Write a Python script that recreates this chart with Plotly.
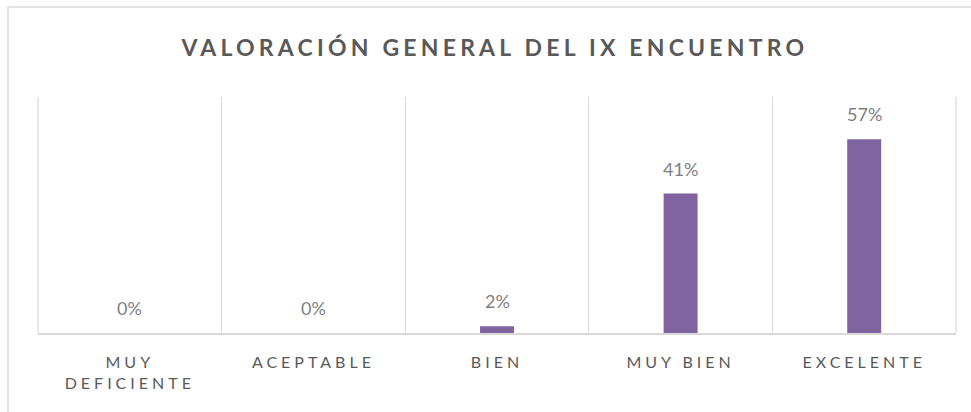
import plotly.graph_objects as go

categories = ["MUY<br>DEFICIENTE", "ACEPTABLE", "BIEN", "MUY BIEN", "EXCELENTE"]
values = [0, 0, 2, 41, 57]
labels = ["0%", "0%", "2%", "41%", "57%"]
title_text = "VALORACIÓN GENERAL DEL IX ENCUENTRO"

W, H = 971, 412
ML, MR, MT, MB = 38, 15, 97, 79
pw = W - ML - MR
ph = H - MT - MB

fig = go.Figure()
fig.add_trace(go.Bar(
    x=categories, y=values, width=0.185,
    marker=dict(color="#8064A2", line=dict(width=0)),
    hoverinfo="skip",
))

for c, v, t in zip(categories, values, labels):
    fig.add_annotation(x=c, y=v, text=t, showarrow=False, yanchor="middle",
                       yshift=25, font=dict(family="Lato", size=18, color="#7f7f7f"))

fig.add_annotation(xref="paper", yref="paper", x=(494 - ML) / pw, y=(H - MB - 47) / ph,
                   text="<b>" + title_text + "</b>", showarrow=False, xanchor="center",
                   yanchor="middle", font=dict(family="Lato", size=23, color="#595959"))

# chart border
fig.add_shape(type="rect", xref="paper", yref="paper",
              x0=(8 - ML) / pw, x1=1.2, y0=-0.5, y1=(H - MB - 7) / ph,
              line=dict(color="#d9d9d9", width=1.5), fillcolor="rgba(0,0,0,0)", layer="below")

# outer vertical gridlines at the plot edges
for xe in (0, 1):
    fig.add_shape(type="line", xref="paper", yref="paper", x0=xe, x1=xe, y0=0, y1=1,
                  line=dict(color="#d9d9d9", width=1.2), layer="below")

fig.update_layout(
    width=W, height=H,
    margin=dict(l=ML, r=MR, t=MT, b=MB),
    paper_bgcolor="white", plot_bgcolor="white",
    showlegend=False,
    xaxis=dict(type="category", tickson="boundaries", showgrid=True, gridcolor="#d9d9d9",
               gridwidth=1.2, showline=True, linecolor="#d9d9d9", linewidth=1.5,
               ticks="", range=[-0.5, 4.5], ticklabelstandoff=14,
               tickfont=dict(family="Lato", size=16, color="#595959")),
    yaxis=dict(range=[0, 69.4], showgrid=False, showticklabels=False, zeroline=False,
               showline=False, fixedrange=True),
)

post = """
document.body.style.margin='0';
var gd = document.getElementsByClassName('plotly-graph-div')[0];
function sp(){
  gd.querySelectorAll('.xtick text').forEach(function(t){ t.style.letterSpacing='4px'; });
  gd.querySelectorAll('.annotation-text').forEach(function(t){
    if (t.textContent.indexOf('VALORACI') >= 0) { t.style.letterSpacing='4.2px'; }
  });
}
sp();
gd.on('plotly_afterplot', sp);
"""
fig.write_html("out.html", post_script=post, config={"displayModeBar": False})
